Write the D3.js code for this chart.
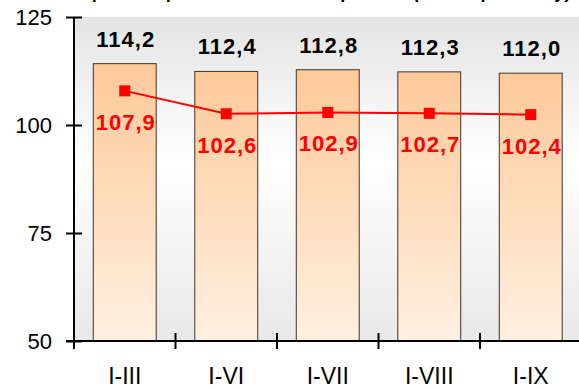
<!DOCTYPE html>
<html>
<head>
<meta charset="utf-8">
<script src="https://cdn.jsdelivr.net/npm/d3@7"></script>
<style>
  html, body { margin: 0; padding: 0; background: #ffffff; }
  svg { display: block; font-family: Arial, "Liberation Sans", sans-serif; }
</style>
</head>
<body>
<svg id="chart" width="579" height="390"></svg>
<script>
const categories = ["I-III", "I-VI", "I-VII", "I-VIII", "I-IX"];
const barValues = [114.2, 112.4, 112.8, 112.3, 112.0];
const lineValues = [107.9, 102.6, 102.9, 102.7, 102.4];
const yTicks = [50, 75, 100, 125];
const titleText = "Темпы роста производства по периодам (в % к пред. году)";

(function () {
const FONT = "Arial, 'Liberation Sans', sans-serif";
const svg = d3.select("#chart");
const pLeft = 74, pRight = 581.5, pTop = 17, pBottom = 341;

const x = d3.scaleBand().domain(categories).range([pLeft, pRight]).padding(0);
const y = d3.scaleLinear().domain([50, 125]).range([pBottom, pTop]);
const loc = d3.formatLocale({decimal: ",", thousands: " ", grouping: [3], currency: ["", ""]});
const fmt = loc.format(".1f");

const defs = svg.append("defs");
const bg = defs.append("linearGradient").attr("id", "bgGrad").attr("x1", 0).attr("y1", 0).attr("x2", 0).attr("y2", 1);
bg.append("stop").attr("offset", "0%").attr("stop-color", "#e4e4e4");
bg.append("stop").attr("offset", "45%").attr("stop-color", "#ffffff");
bg.append("stop").attr("offset", "100%").attr("stop-color", "#e8e8e8");
const bar = defs.append("linearGradient").attr("id", "barGrad").attr("x1", 0).attr("y1", 0).attr("x2", 0).attr("y2", 1);
bar.append("stop").attr("offset", "0%").attr("stop-color", "#fec999");
bar.append("stop").attr("offset", "100%").attr("stop-color", "#fff0e1");

// title (mostly cut off at top, as in the reference)
svg.append("text").attr("x", 300).attr("y", -2).attr("text-anchor", "middle")
  .attr("font-family", FONT)
  .attr("font-size", 18).attr("font-weight", "bold").attr("font-style", "italic")
  .attr("fill", "#000").text(titleText);

// plot background
svg.append("rect").attr("x", pLeft).attr("y", pTop).attr("width", pRight - pLeft).attr("height", pBottom - pTop)
  .attr("fill", "url(#bgGrad)");

// bars
const bw = x.bandwidth() * 0.62;
svg.append("g").selectAll("rect").data(categories).join("rect")
  .attr("x", (d) => x(d) + x.bandwidth() / 2 - bw / 2)
  .attr("y", (d, i) => y(barValues[i]))
  .attr("width", bw)
  .attr("height", (d, i) => y(50) - y(barValues[i]))
  .attr("fill", "url(#barGrad)")
  .attr("stroke", "#3d342c").attr("stroke-width", 1);

// bar labels
svg.append("g").selectAll("text").data(categories).join("text")
  .attr("x", (d) => x(d) + x.bandwidth() / 2 + 1)
  .attr("y", (d, i) => y(barValues[i]) - 17)
  .attr("text-anchor", "middle").attr("font-family", FONT).attr("font-size", 22).attr("font-weight", "bold")
  .attr("letter-spacing", "1px").attr("fill", "#000")
  .text((d, i) => fmt(barValues[i]));

// line
const cx = (d) => x(d) + x.bandwidth() / 2;
svg.append("path").datum(categories)
  .attr("d", d3.line().x(cx).y((d, i) => y(lineValues[i])))
  .attr("fill", "none").attr("stroke", "#ff0000").attr("stroke-width", 2);
svg.append("g").selectAll("rect").data(categories).join("rect")
  .attr("x", (d) => cx(d) - 5.5).attr("y", (d, i) => y(lineValues[i]) - 5.5)
  .attr("width", 11).attr("height", 11).attr("fill", "#ff0000");
svg.append("g").selectAll("text").data(categories).join("text")
  .attr("x", (d) => cx(d) + 1)
  .attr("y", (d, i) => y(lineValues[i]) + 39)
  .attr("text-anchor", "middle").attr("font-family", FONT).attr("font-size", 22).attr("font-weight", "bold")
  .attr("letter-spacing", "1px").attr("fill", "#ff0000")
  .text((d, i) => fmt(lineValues[i]));

// y axis
const yAxis = svg.append("g").attr("transform", `translate(${pLeft},0)`)
  .call(d3.axisLeft(y).tickValues(yTicks).tickSize(8).tickPadding(14).tickFormat(d3.format("d")));
yAxis.attr("font-family", FONT);
yAxis.select(".domain").remove();
yAxis.selectAll(".tick line").attr("x1", 8).attr("stroke", "#000").attr("stroke-width", 2);
yAxis.selectAll(".tick text").attr("font-size", 22).attr("fill", "#000").attr("font-family", FONT);
svg.append("line").attr("x1", pLeft).attr("x2", pLeft).attr("y1", pTop).attr("y2", pBottom + 8)
  .attr("stroke", "#000").attr("stroke-width", 2);

// x axis
const xAxis = svg.append("g").attr("transform", `translate(0,${pBottom})`)
  .call(d3.axisBottom(x).tickSize(0).tickPadding(27));
xAxis.attr("font-family", FONT);
xAxis.select(".domain").remove();
xAxis.selectAll(".tick text").attr("font-size", 23).attr("fill", "#000").attr("font-family", FONT);
svg.append("line").attr("x1", pLeft - 8).attr("x2", pRight).attr("y1", pBottom).attr("y2", pBottom)
  .attr("stroke", "#000").attr("stroke-width", 2);
svg.append("g").selectAll("line").data(categories.slice(1)).join("line")
  .attr("x1", (d) => x(d)).attr("x2", (d) => x(d))
  .attr("y1", pBottom - 8).attr("y2", pBottom + 8)
  .attr("stroke", "#000").attr("stroke-width", 2);
})();
</script>
</body>
</html>
